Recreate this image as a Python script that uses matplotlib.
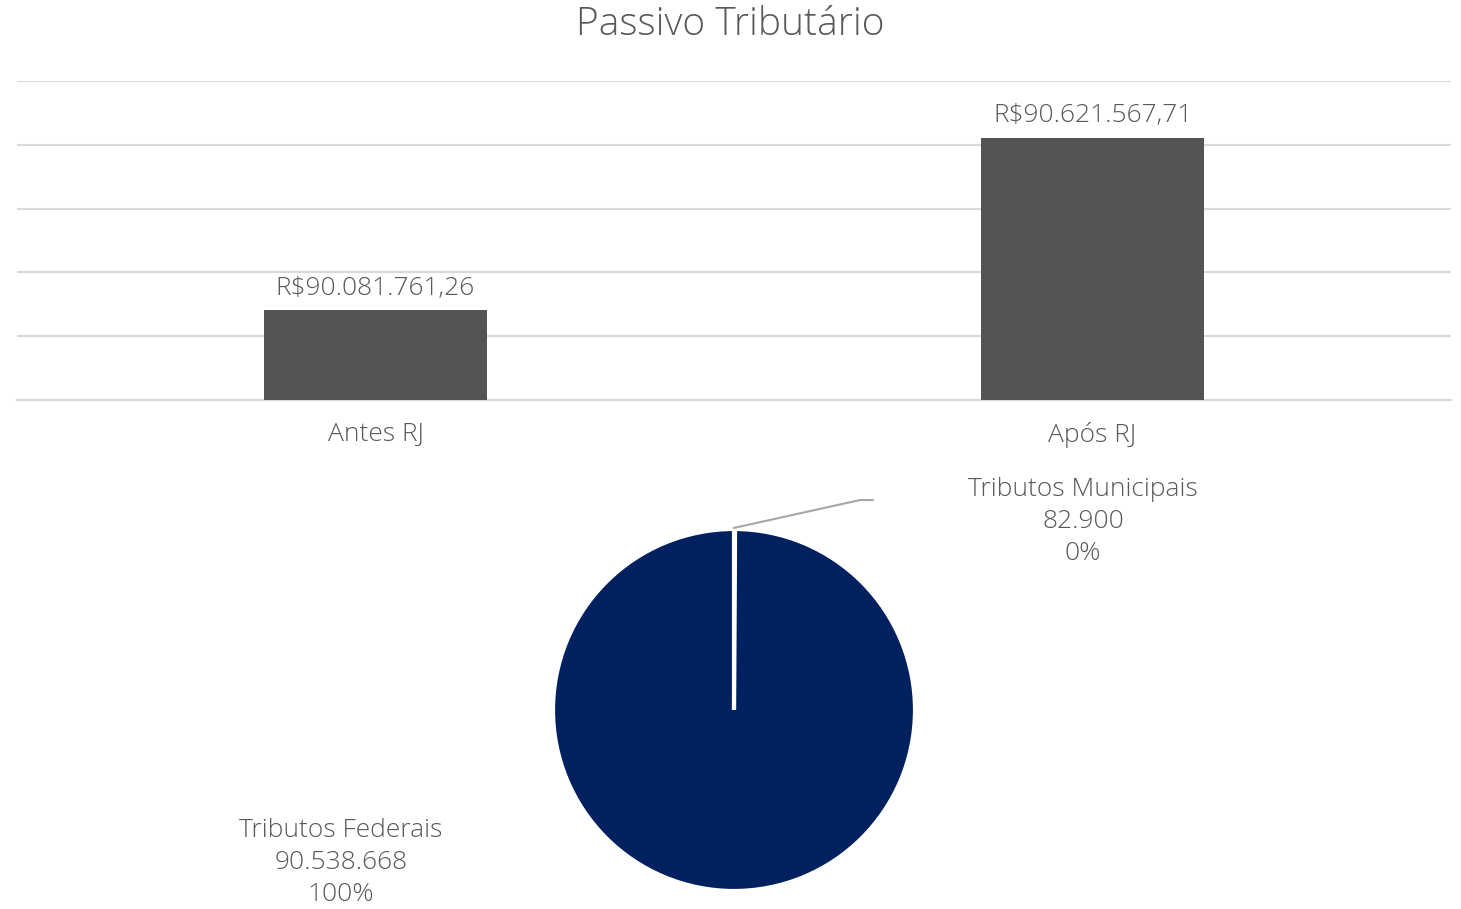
import matplotlib
matplotlib.use("Agg")
import matplotlib.pyplot as plt

# bar data
categorias = ["Antes RJ", "Após RJ"]
passivo = [90081761.26, 90621567.71]

# pie data
tributos = ["Tributos Municipais", "Tributos Federais"]
valores_tributos = [82900, 90538668]

texto = "#595959"
plt.rcParams['font.family'] = ['Open Sans', 'DejaVu Sans']
plt.rcParams['font.weight'] = 'light'


def brl(v, casas=2):
    s = f"{v:,.{casas}f}"
    return s.replace(",", "X").replace(".", ",").replace("X", ".")


fig = plt.figure(figsize=(14.61, 9.09), dpi=100)
fig.text(0.5, 0.973, "Passivo Tributário", ha="center", va="center",
         fontsize=28, color=texto)

# bar chart
ax = fig.add_axes([17 / 1461, 1 - 400 / 909, 1434 / 1461, 319 / 909])
ax.bar(categorias, passivo, width=0.312, color="#545454", zorder=3)
ax.set_ylim(89800000, 90800000)
ax.set_xlim(-0.5, 1.5)
ax.set_yticks([89800000 + 200000 * i for i in range(6)])
ax.yaxis.grid(True, color="#d9d9d9", linewidth=1.5, zorder=0)
ax.tick_params(axis="y", left=False, labelleft=False)
ax.tick_params(axis="x", bottom=False, labelsize=19, labelcolor=texto, pad=12)
for s in ["top", "right", "left"]:
    ax.spines[s].set_visible(False)
ax.spines["bottom"].set_color("#d9d9d9")
ax.spines["bottom"].set_linewidth(1.5)
for i, v in enumerate(passivo):
    ax.text(i, v + 30000, "R$" + brl(v), ha="center", va="bottom",
            fontsize=19, color=texto)

# pie chart
r = 181
axp = fig.add_axes([(734 - r) / 1461, (909 - 710 - r) / 909, 2 * r / 1461, 2 * r / 909])
axp.pie(valores_tributos, colors=["#002060", "#002060"], startangle=90,
        counterclock=False, radius=1,
        wedgeprops=dict(edgecolor="white", linewidth=3))
axp.set_xlim(-1, 1)
axp.set_ylim(-1, 1)
axp.set_aspect("equal")
axp.axis("off")

total = sum(valores_tributos)
rotulos = [f"{t}\n{brl(v, 0)}\n{round(100 * v / total)}%"
           for t, v in zip(tributos, valores_tributos)]
axp.plot([0, 0.696, 0.696 + 0.07], [1.006, 1.16, 1.16], color="#a6a6a6",
         linewidth=1.5, clip_on=False)
axp.text(1.928, 1.039, rotulos[0], ha="center", va="center", fontsize=19,
         color=texto, linespacing=1.37)
axp.text(-2.171, -0.845, rotulos[1], ha="center", va="center", fontsize=19,
         color=texto, linespacing=1.37)

fig.savefig("out.png", dpi=100)
